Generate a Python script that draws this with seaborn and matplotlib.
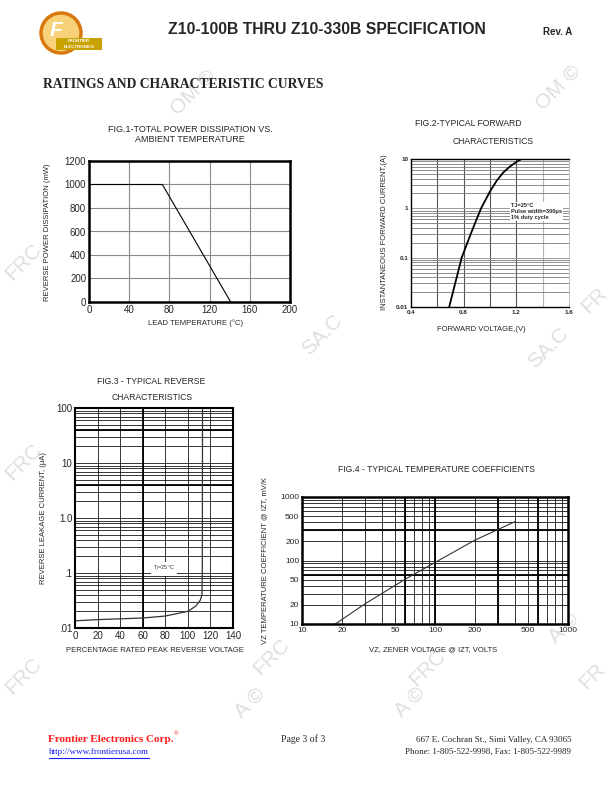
import numpy as np
import pandas as pd
import matplotlib
matplotlib.use("Agg")
import matplotlib.pyplot as plt
import seaborn as sns
from matplotlib.patches import Ellipse, Rectangle
from matplotlib.lines import Line2D
from matplotlib.ticker import LogLocator, NullFormatter

# ---------------------------------------------------------------------------
# data
# ---------------------------------------------------------------------------
fig1_temp = [0, 73, 141]
fig1_power = [1000, 1000, 0]

fig2_volt = [0.69, 0.785, 0.853, 0.932, 1.0, 1.05, 1.1, 1.15, 1.2, 1.24]
fig2_curr = [0.01, 0.1, 0.3, 1.0, 2.2, 3.6, 5.3, 7.0, 8.7, 10.0]

fig3_pct = [0, 20, 40, 60, 80, 100, 107, 111, 112.5, 112.8, 113]
fig3_leak = [0.0135, 0.0142, 0.0147, 0.0152, 0.0165, 0.0201, 0.025, 0.032, 0.04, 0.1, 100]

fig4_vz = [17.8, 30, 60, 100, 200, 300, 400]
fig4_tc = [10, 21, 51, 93, 210, 310, 410]

fig1_xticks = [0, 40, 80, 120, 160, 200]
fig1_yticks = [0, 200, 400, 600, 800, 1000, 1200]
fig2_xticks = [0.4, 0.8, 1.2, 1.6]
fig2_yticks = [0.01, 0.1, 1, 10]
fig2_ylabels = ["0.01", "0.1", "1", "10"]
fig3_xticks = [0, 20, 40, 60, 80, 100, 120, 140]
fig3_yticks = [0.01, 0.1, 1, 10, 100]
fig3_ylabels = [".01", ".1", "1.0", "10", "100"]
fig4_ticks = [10, 20, 50, 100, 200, 500, 1000]
fig4_labels = ["10", "20", "50", "100", "200", "500", "1000"]

# watermark fragments that peek out between the chart images (text, x, y in px)
wm_text = ["FRC", "OM \u00a9", "OM \u00a9", "SA.C", "SA.C", "FR", "FRC", "FRC",
           "A \u00a9", "FRC", "A \u00a9", "FRC", "A \u00a9", "FR"]
wm_x = [24, 193, 558, 322, 548, 594, 24, 24, 250, 272, 410, 428, 564, 592]
wm_y = [262, 92, 87, 335, 348, 300, 462, 676, 703, 657, 702, 668, 628, 676]

W, H = 612, 792
SANS = "Liberation Sans"
SERIF = "Liberation Serif"

sns.set_theme(style="white")
plt.rcParams["font.family"] = [SANS, "DejaVu Sans"]

fig = plt.figure(figsize=(W / 100, H / 100), dpi=100)
fig.patch.set_facecolor("white")


def fx(x):
    return x / W


def fy(y):
    return 1 - y / H


def box(x0, y0, x1, y1):
    return [fx(x0), fy(y1), (x1 - x0) / W, (y1 - y0) / H]


def ftext(x, y, s, **kw):
    kw.setdefault("va", "center")
    kw.setdefault("family", SANS)
    return fig.text(fx(x), fy(y), s, **kw)


# faint watermark
for s, x, y in zip(wm_text, wm_x, wm_y):
    ftext(x, y, s, rotation=45, ha="center", fontsize=15, color="#dfdfdf",
          zorder=-3)

# ---------------------------------------------------------------------------
# header
# ---------------------------------------------------------------------------
fig.patches.append(Ellipse((fx(61), fy(33)), 40 / W, 40 / H, transform=fig.transFigure,
                           facecolor="#f8d27a", edgecolor="#d8780f", lw=2.5, zorder=2))
ftext(56, 30, "F", fontsize=15, fontweight="bold", color="white", ha="center",
      style="italic", zorder=3)
fig.patches.append(Rectangle((fx(56), fy(50)), 46 / W, 12 / H, transform=fig.transFigure,
                             facecolor="#c8a200", edgecolor="none", zorder=3))
ftext(79, 41, "FRONTIER", fontsize=3.2, fontweight="bold", color="white",
      ha="center", zorder=4)
ftext(79, 47, "ELECTRONICS", fontsize=3.2, fontweight="bold", color="white",
      ha="center", zorder=4)

ftext(327, 30, "Z10-100B THRU Z10-330B SPECIFICATION", fontsize=11.3,
      fontweight="bold", ha="center")
ftext(558, 32, "Rev. A", fontsize=7, fontweight="bold", ha="center")
ftext(43, 84, "RATINGS AND CHARACTERISTIC CURVES", fontsize=9.8,
      fontweight="bold", ha="left", family=SERIF)


def frame(ax, lw, color="black"):
    for sp in ax.spines.values():
        sp.set_visible(True)
        sp.set_linewidth(lw)
        sp.set_color(color)
    ax.set_facecolor("white")
    ax.set_xlabel("")
    ax.set_ylabel("")
    ax.tick_params(which="both", length=0, pad=2)


# ---------------------------------------------------------------------------
# FIG.1 power derating
# ---------------------------------------------------------------------------
ax1 = fig.add_axes(box(89, 161, 290, 302))
d1 = pd.DataFrame({"temp": fig1_temp, "power": fig1_power})
sns.lineplot(data=d1, x="temp", y="power", ax=ax1, color="black", lw=0.8,
             sort=False, estimator=None)
ax1.set_xlim(0, 200)
ax1.set_ylim(0, 1200)
ax1.set_xticks(fig1_xticks)
ax1.set_yticks(fig1_yticks)
ax1.grid(True, color="#8a8a8a", lw=0.8)
frame(ax1, 1.8)
ax1.tick_params(labelsize=7)

ftext(190, 130, "FIG.1-TOTAL POWER DISSIPATION VS.", fontsize=6.5, ha="center")
ftext(190, 139, "AMBIENT TEMPERATURE", fontsize=6.5, ha="center")
ftext(48, 232, "REVERSE POWER DISSIPATION (mW)", fontsize=5.5, ha="center",
      rotation=90)
ftext(196, 323, "LEAD TEMPERATURE (\u00b0C)", fontsize=5.5, ha="center")

# ---------------------------------------------------------------------------
# FIG.2 forward characteristics
# ---------------------------------------------------------------------------
ax2 = fig.add_axes(box(411, 159, 569, 307))
d2 = pd.DataFrame({"volt": fig2_volt, "curr": fig2_curr})
sns.lineplot(data=d2, x="volt", y="curr", ax=ax2, color="black", lw=1.3,
             sort=False, estimator=None)
ax2.set_yscale("log")
ax2.set_xlim(0.4, 1.6)
ax2.set_ylim(0.01, 10)
ax2.set_xticks(fig2_xticks)
ax2.set_xticklabels([f"{v:.1f}" for v in fig2_xticks])
ax2.set_yticks(fig2_yticks)
ax2.set_yticklabels(fig2_ylabels)
ax2.yaxis.set_minor_locator(LogLocator(base=10, subs=np.arange(2, 10)))
ax2.yaxis.set_minor_formatter(NullFormatter())
ax2.grid(True, which="major", axis="y", color="#9a9a9a", lw=0.7)
ax2.grid(True, which="minor", axis="y", color="#7a7a7a", lw=0.6)
for v in [0.6, 0.8, 1.0, 1.2]:
    ax2.axvline(v, color="#555555", lw=0.8, zorder=0.5)
ax2.axvline(1.4, color="#b5b5b5", lw=0.8, zorder=0.5)
frame(ax2, 1.0)
ax2.spines["right"].set_color("#b5b5b5")
ax2.spines["right"].set_linewidth(0.6)
ax2.tick_params(labelsize=4.5)
for lab in ax2.get_xticklabels() + ax2.get_yticklabels():
    lab.set_fontweight("bold")
ax2.text(0.633, 0.703, "TJ=25\u00b0C\nPulse width=300\u03bcs\n1% duty cycle",
         transform=ax2.transAxes, fontsize=4.1, fontweight="bold", va="top",
         ha="left", linespacing=1.3,
         bbox=dict(facecolor="white", edgecolor="none", pad=0.8))

ftext(415, 123, "FIG.2-TYPICAL FORWARD", fontsize=6.2, ha="left")
ftext(453, 141, "CHARACTERISTICS", fontsize=6.2, ha="left")
ftext(384, 232, "INSTANTANEOUS FORWARD CURRENT,(A)", fontsize=5.5, ha="center",
      rotation=90)
ftext(481, 329, "FORWARD VOLTAGE,(V)", fontsize=5.5, ha="center")

# ---------------------------------------------------------------------------
# FIG.3 reverse characteristics
# ---------------------------------------------------------------------------
ax3 = fig.add_axes(box(75, 408, 233, 628))
d3 = pd.DataFrame({"pct": fig3_pct, "leak": fig3_leak})
sns.lineplot(data=d3, x="pct", y="leak", ax=ax3, color="#333333", lw=0.9,
             sort=False, estimator=None)
ax3.set_yscale("log")
ax3.set_xlim(0, 140)
ax3.set_ylim(0.01, 100)
ax3.set_xticks(fig3_xticks)
ax3.set_yticks(fig3_yticks)
ax3.set_yticklabels(fig3_ylabels)
ax3.yaxis.set_minor_locator(LogLocator(base=10, subs=np.arange(2, 10)))
ax3.yaxis.set_minor_formatter(NullFormatter())
ax3.grid(True, which="both", color="black", lw=0.55)
ax3.grid(False, which="minor", axis="x")
for v in [40, 4]:
    ax3.axhline(v, color="black", lw=1.3, zorder=0.6)
ax3.axvline(60, color="black", lw=1.3, zorder=0.6)
frame(ax3, 1.5)
ax3.tick_params(labelsize=7)
ax3.text(0.563, 0.268, "T$_J$=25\u00b0C", transform=ax3.transAxes, fontsize=4,
         ha="center", va="center", color="#333333",
         bbox=dict(facecolor="white", edgecolor="none", pad=1.2))

ftext(97, 381, "FIG.3 - TYPICAL REVERSE", fontsize=6.2, ha="left")
ftext(112, 397, "CHARACTERISTICS", fontsize=6.2, ha="left")
ftext(44, 518, "REVERSE LEAKAGE CURRENT, (\u03bcA)", fontsize=5.5, ha="center",
      rotation=90)
ftext(155, 650, "PERCENTAGE RATED PEAK REVERSE VOLTAGE", fontsize=5.5, ha="center")

# ---------------------------------------------------------------------------
# FIG.4 temperature coefficients
# ---------------------------------------------------------------------------
ax4 = fig.add_axes(box(302, 497, 568, 624))
d4 = pd.DataFrame({"vz": fig4_vz, "tc": fig4_tc})
sns.lineplot(data=d4, x="vz", y="tc", ax=ax4, color="#333333", lw=0.8,
             sort=False, estimator=None)
ax4.set_xscale("log")
ax4.set_yscale("log")
ax4.set_xlim(10, 1000)
ax4.set_ylim(10, 1000)
ax4.set_xticks(fig4_ticks)
ax4.set_xticklabels(fig4_labels)
ax4.set_yticks(fig4_ticks)
ax4.set_yticklabels(fig4_labels)
for a in (ax4.xaxis, ax4.yaxis):
    a.set_minor_locator(LogLocator(base=10, subs=np.arange(2, 10)))
    a.set_minor_formatter(NullFormatter())
ax4.grid(True, which="both", color="black", lw=0.55)
for v in [60, 100, 300, 600]:
    ax4.axvline(v, color="black", lw=1.3, zorder=0.6)
for v in [300, 60]:
    ax4.axhline(v, color="black", lw=1.3, zorder=0.6)
frame(ax4, 1.8)
ax4.tick_params(labelsize=6)

ftext(437, 470, "FIG.4 - TYPICAL TEMPERATURE COEFFICIENTS", fontsize=6.2, ha="center")
ftext(265, 560, "VZ TEMPERATURE COEFFICIENT @ IZT, mV/K", fontsize=5.5,
      ha="center", rotation=90)
ftext(433, 650, "VZ, ZENER VOLTAGE @ IZT, VOLTS", fontsize=5.5, ha="center")

# ---------------------------------------------------------------------------
# footer
# ---------------------------------------------------------------------------
ftext(48, 739, "Frontier Electronics Corp.", fontsize=8, fontweight="bold",
      color="#ff1a1a", ha="left", family=SERIF)
ftext(174, 734, "\u00ae", fontsize=4.5, color="#ff1a1a", ha="left", family=SERIF)
ftext(49, 752, "http://www.frontierusa.com", fontsize=6.5, color="#1a1aff",
      ha="left", family=SERIF)
fig.add_artist(Line2D([fx(49), fx(149)], [fy(757.5), fy(757.5)], color="#1a1aff",
                      lw=0.8, transform=fig.transFigure))
ftext(303, 739, "Page 3 of 3", fontsize=7, ha="center", family=SERIF)
ftext(571, 740, "667 E. Cochran St., Simi Valley, CA 93065", fontsize=6.5,
      ha="right", family=SERIF)
ftext(571, 752, "Phone: 1-805-522-9998, Fax: 1-805-522-9989", fontsize=6.5,
      ha="right", family=SERIF)

fig.savefig("out.png", dpi=100, facecolor="white")
